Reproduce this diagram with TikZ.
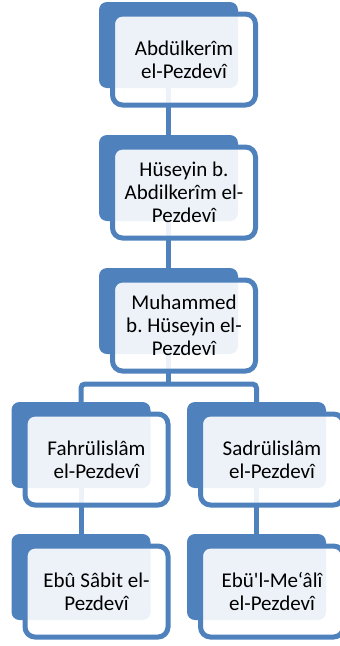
\documentclass[tikz,border=0pt]{standalone}
\usepackage{fontspec}
\setmainfont{Carlito}[Ligatures=TeXOff]
\usepackage{tikz}
\definecolor{accblue}{HTML}{4F81BD}

\begin{document}
\frenchspacing
\begin{tikzpicture}[x=1pt, y=-1pt,
    backbox/.style={rectangle, rounded corners=8pt, fill=accblue,
        minimum width=139pt, minimum height=86pt, inner sep=0pt},
    frontbox/.style={rectangle, rounded corners=10pt, draw=accblue,
        line width=5pt, fill=white, fill opacity=0.9, text opacity=1,
        minimum width=143pt, minimum height=91pt, inner sep=0pt,
        align=center, font=\fontsize{21}{23}\selectfont},
    link/.style={draw=accblue, line width=5pt}]

    % Cornice
    \clip (0,0) rectangle (340,646);

    % Riquadri dietro
    \node[backbox] (b1) at (168.5,45) {};
    \node[backbox] (b2) at (168.5,178) {};
    \node[backbox] (b3) at (168.5,311) {};
    \node[backbox] (b4l) at (81,445) {};
    \node[backbox] (b4r) at (256.5,445) {};
    \node[backbox] (b5l) at (81,577) {};
    \node[backbox] (b5r) at (256.5,577) {};

    % Collegamenti
    \coordinate (split) at (168.5,384);
    \draw[link] (b1.south) -- (b2.north);
    \draw[link] (b2.south) -- (b3.north);
    \draw[link] (b3.south) -- (split);
    \draw[link, rounded corners=4pt] (b4l.north) |- (split) -| (b4r.north);
    \draw[link] (b4l.south) -- (b5l.north);
    \draw[link] (b4r.south) -- (b5r.north);

    % Riquadri davanti con i nomi
    \node[frontbox] (f1) at ([shift={(15.5,14.5)}]b1.center) {Abdülkerîm\\el-Pezdevî};
    \node[frontbox] (f2) at ([shift={(15.5,14.5)}]b2.center) {Hüseyin b.\\Abdilkerîm el-\\Pezdevî};
    \node[frontbox] (f3) at ([shift={(15.5,14.5)}]b3.center) {Muhammed\\b. Hüseyin el-\\Pezdevî};
    \node[frontbox] (f4l) at ([shift={(15.5,14.5)}]b4l.center) {Fahrülislâm\\el-Pezdevî};
    \node[frontbox] (f4r) at ([shift={(15.5,14.5)}]b4r.center) {Sadrülislâm\\el-Pezdevî};
    \node[frontbox] (f5l) at ([shift={(15.5,14.5)}]b5l.center) {Ebû Sâbit el-\\Pezdevî};
    \node[frontbox] (f5r) at ([shift={(15.5,14.5)}]b5r.center) {Ebü'l-Me‘âlî\\el-Pezdevî};

\end{tikzpicture}
\end{document}
